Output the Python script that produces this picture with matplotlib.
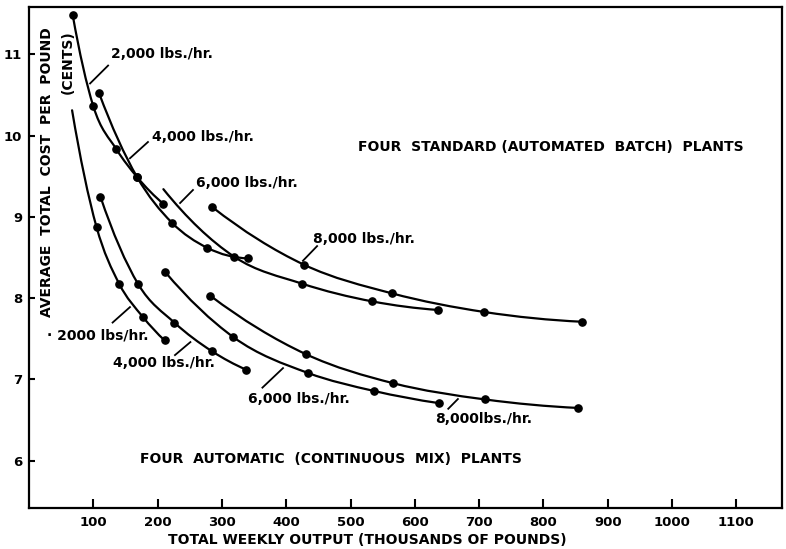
import numpy as np
import matplotlib
matplotlib.use("Agg")
import matplotlib.pyplot as plt
from matplotlib.path import Path
from matplotlib.patches import PathPatch

plt.rcParams['font.family'] = ['DejaVu Sans']
plt.rcParams['font.weight'] = 'bold'

# ─── data (x: thousand lbs/week, y: cents/lb) ────────────────────────────────
# standard (automated batch) plants
std_2000_x = [68, 100, 136, 168, 209]
std_2000_y = [11.48, 10.36, 9.83, 9.49, 9.16]
std_4000_x = [109, 168, 222, 277, 341]
std_4000_y = [10.52, 9.49, 8.93, 8.62, 8.49]
std_6000_x = [209, 319, 424, 534, 636]
std_6000_y = [9.34, 8.51, 8.18, 7.96, 7.855]
std_8000_x = [285, 428, 564, 708, 860]
std_8000_y = [9.12, 8.41, 8.06, 7.83, 7.71]

# automatic (continuous mix) plants
cont_2000_x = [67, 105, 140, 177, 211]
cont_2000_y = [10.31, 8.875, 8.18, 7.77, 7.48]
cont_4000_x = [111, 170, 226, 284, 338]
cont_4000_y = [9.25, 8.17, 7.70, 7.35, 7.12]
cont_6000_x = [212, 318, 434, 536, 637]
cont_6000_y = [8.32, 7.52, 7.08, 6.86, 6.71]
cont_8000_x = [282, 431, 566, 709, 854]
cont_8000_y = [8.03, 7.31, 6.955, 6.755, 6.65]

x_ticks = [100, 200, 300, 400, 500, 600, 700, 800, 900, 1000, 1100]
y_ticks = [6, 7, 8, 9, 10, 11]

# (x, y, index of first dotted point)
curves = [
    (std_2000_x, std_2000_y, 0),
    (std_4000_x, std_4000_y, 0),
    (std_6000_x, std_6000_y, 1),
    (std_8000_x, std_8000_y, 0),
    (cont_2000_x, cont_2000_y, 1),
    (cont_4000_x, cont_4000_y, 0),
    (cont_6000_x, cont_6000_y, 0),
    (cont_8000_x, cont_8000_y, 0),
]


def slopes(x, y):
    """dy/dx at each point from the parabola through it and its neighbours."""
    n = len(x)
    m = np.zeros(n)
    for i in range(n):
        j = min(max(i, 1), n - 2)          # centre of the 3-point stencil
        h0, h1 = x[j] - x[j - 1], x[j + 1] - x[j]
        s0 = (y[j] - y[j - 1]) / h0
        s1 = (y[j + 1] - y[j]) / h1
        if i == j:
            m[i] = (s0 * h1 + s1 * h0) / (h0 + h1)
        elif i < j:
            m[i] = s0 - (s1 - s0) * h0 / (h0 + h1)
        else:
            m[i] = s1 + (s1 - s0) * h1 / (h0 + h1)
    return m


def smooth_path(xs, ys):
    """Cubic Hermite curve through the points, as Bezier segments."""
    x = np.asarray(xs, float)
    y = np.asarray(ys, float)
    m = slopes(x, y)
    verts = [(x[0], y[0])]
    codes = [Path.MOVETO]
    for i in range(len(x) - 1):
        d = (x[i + 1] - x[i]) / 3.0
        verts += [(x[i] + d, y[i] + m[i] * d),
                  (x[i + 1] - d, y[i + 1] - m[i + 1] * d),
                  (x[i + 1], y[i + 1])]
        codes += [Path.CURVE4] * 3
    return Path(verts, codes)


fig = plt.figure(figsize=(7.86, 5.49), dpi=100)
ax = fig.add_axes([29 / 786, 1 - 508 / 549, (782 - 29) / 786, (508 - 7) / 549])

for xs, ys, first in curves:
    ax.add_patch(PathPatch(smooth_path(xs, ys), fill=False, lw=1.6,
                           edgecolor='black', capstyle='round'))
    ax.plot(xs[first:], ys[first:], 'o', color='black', markersize=5.2)

ax.set_xlim(0, 1171)
ax.set_ylim(5.42, 11.58)
ax.set_xticks(x_ticks)
ax.set_yticks(y_ticks)
ax.set_xticklabels([str(t) for t in x_ticks])
ax.tick_params(axis='x', direction='in', length=6.5, width=1.5, pad=6, labelsize=9.5)
ax.tick_params(axis='y', direction='in', length=4.5, width=1.5, pad=5, labelsize=9.5)
for s in ax.spines.values():
    s.set_linewidth(1.6)

# curve labels: (text, text x, text y, leader start, leader end)
labels = [
    ('2,000 lbs./hr.', 127, 11.0, (95, 10.64), (123, 10.86)),
    ('4,000 lbs./hr.', 192, 9.98, (157, 9.72), (185, 9.92)),
    ('6,000 lbs./hr.', 259, 9.42, (235, 9.17), (255, 9.33)),
    ('8,000 lbs./hr.', 442, 8.73, (426, 8.46), (448, 8.64)),
    ('· 2000 lbs/hr.', 28, 7.54, (130, 7.70), (157, 7.89)),
    ('4,000 lbs./hr.', 130, 7.20, (227, 7.30), (251, 7.46)),
    ('6,000 lbs./hr.', 340, 6.755, (363, 6.90), (395, 7.14)),
    ('8,000lbs./hr.', 632, 6.52, (652, 6.64), (667, 6.76)),
]
for txt, tx, ty, (x0, y0), (x1, y1) in labels:
    ax.text(tx, ty, txt, ha='left', va='center', fontsize=10)
    ax.plot([x0, x1], [y0, y1], color='black', lw=1.3)

ax.text(512, 9.86, 'FOUR  STANDARD (AUTOMATED  BATCH)  PLANTS',
        ha='left', va='center', fontsize=10)
ax.text(173, 6.02, 'FOUR  AUTOMATIC  (CONTINUOUS  MIX)  PLANTS',
        ha='left', va='center', fontsize=10)

fig.text(367 / 786, 1 - 540 / 549, 'TOTAL WEEKLY OUTPUT (THOUSANDS OF POUNDS)',
         ha='center', va='center', fontsize=10)
fig.text(46.7 / 786, 1 - 27 / 549, 'AVERAGE  TOTAL  COST  PER  POUND',
         rotation=90, ha='center', va='top', fontsize=10)
fig.text(67.5 / 786, 1 - 30 / 549, '(CENTS)',
         rotation=90, ha='center', va='top', fontsize=10)

plt.savefig('out.png', dpi=100)
plt.close(fig)
